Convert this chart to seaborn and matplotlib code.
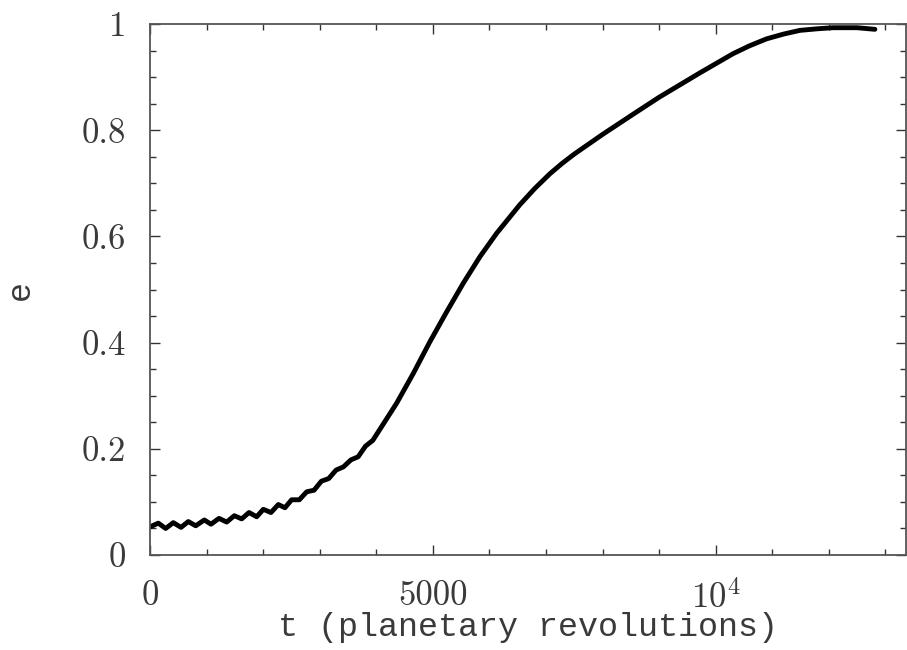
import matplotlib
matplotlib.use("Agg")
import matplotlib.pyplot as plt
import seaborn as sns
import pandas as pd
from matplotlib.ticker import MultipleLocator, FixedLocator, FixedFormatter

# Data (t in planetary revolutions, e eccentricity)
t_vals = [0, 147, 277, 412, 548, 677, 808, 960, 1078, 1220, 1356, 1490, 1621,
          1750, 1886, 2003, 2139, 2268, 2386, 2504, 2640, 2770, 2900, 3030,
          3160, 3290, 3420, 3550, 3680, 3810, 3940, 4066, 4361, 4655, 4950,
          5245, 5539, 5834, 6129, 6541, 6800, 7070, 7280, 7500, 8000, 8540,
          9000, 9722, 10306, 10600, 10900, 11200, 11490, 11800, 12075, 12500,
          12815]
e_vals = [0.053, 0.060, 0.050, 0.061, 0.052, 0.063, 0.055, 0.066, 0.058, 0.069,
          0.062, 0.074, 0.068, 0.080, 0.072, 0.086, 0.080, 0.095, 0.089, 0.104,
          0.104, 0.119, 0.122, 0.139, 0.144, 0.160, 0.166, 0.179, 0.185, 0.205,
          0.216, 0.237, 0.286, 0.342, 0.402, 0.458, 0.512, 0.562, 0.606, 0.660,
          0.690, 0.718, 0.737, 0.755, 0.792, 0.830, 0.862, 0.908, 0.944, 0.959,
          0.972, 0.981, 0.988, 0.991, 0.993, 0.993, 0.990]

x_ticks = [0, 5000, 10000]
x_tick_labels = ["0", "5000", r"$10^4$"]
y_ticks = [0, 0.2, 0.4, 0.6, 0.8, 1.0]
y_tick_labels = ["0", "0.2", "0.4", "0.6", "0.8", "1"]

sns.set_style("ticks")
plt.rcParams["font.family"] = ["cmr10", "DejaVu Serif"]
plt.rcParams["mathtext.fontset"] = "cm"
plt.rcParams["axes.unicode_minus"] = False
plt.rcParams["axes.formatter.use_mathtext"] = True

df = pd.DataFrame({"t": t_vals, "e": e_vals})

fig = plt.figure(figsize=(9.07, 6.5), dpi=100)
ax = fig.add_axes([150 / 907, 95 / 650, 756 / 907, 531 / 650])

sns.lineplot(data=df, x="t", y="e", ax=ax, sort=False, estimator=None,
             color="black", linewidth=3.5, solid_joinstyle="round",
             solid_capstyle="round")

ax.set_xlim(0, 13365)
ax.set_ylim(0, 1)

ax.xaxis.set_major_locator(FixedLocator(x_ticks))
ax.xaxis.set_major_formatter(FixedFormatter(x_tick_labels))
ax.xaxis.set_minor_locator(MultipleLocator(1000))
ax.yaxis.set_major_locator(FixedLocator(y_ticks))
ax.yaxis.set_major_formatter(FixedFormatter(y_tick_labels))
ax.yaxis.set_minor_locator(MultipleLocator(0.05))

for s in ax.spines.values():
    s.set_visible(True)
    s.set_color("#555555")
    s.set_linewidth(1.3)

ax.tick_params(which="both", direction="in", top=True, right=True,
               color="#333333", width=1.0)
ax.tick_params(which="major", length=7, labelsize=25)
ax.tick_params(which="minor", length=4)
ax.tick_params(axis="x", which="major", pad=18)
ax.tick_params(axis="y", which="major", pad=17)

for lab in ax.get_xticklabels() + ax.get_yticklabels():
    lab.set_color("#3a3a3a")

label_font = dict(family=["Liberation Mono", "DejaVu Sans Mono"],
                  fontsize=24, color="#3a3a3a")
ax.set_xlabel("t (planetary revolutions)", **label_font)
ax.xaxis.set_label_coords(0.5, -0.137)
ax.xaxis.label.set_va("center")
ax.set_ylabel("e", rotation=90, **label_font)
ax.yaxis.set_label_coords(-0.172, 0.5)
ax.yaxis.label.set_va("center")
ax.yaxis.label.set_ha("center")

fig.savefig("out.png", dpi=100)
